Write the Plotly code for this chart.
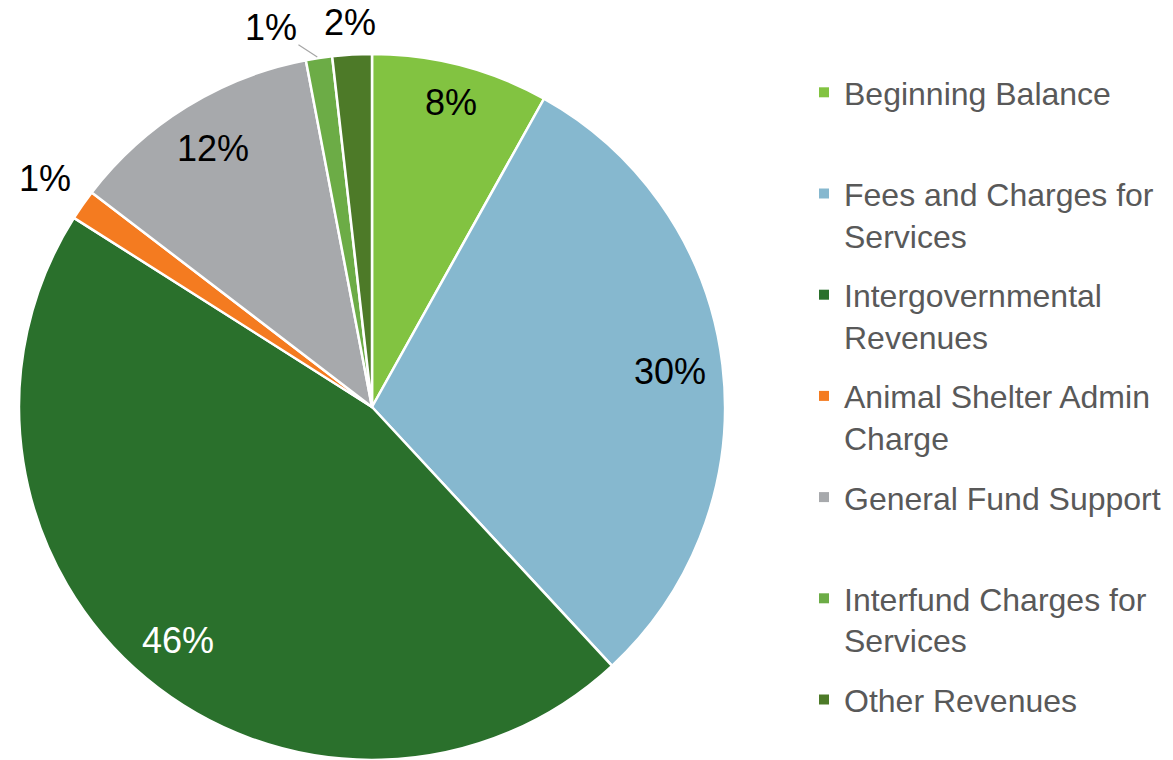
import math
import plotly.graph_objects as go

# ---- data ----
categories = [
    "Beginning Balance",
    "Fees and Charges for Services",
    "Intergovernmental Revenues",
    "Animal Shelter Admin Charge",
    "General Fund Support",
    "Interfund Charges for Services",
    "Other Revenues",
]
legend_labels = [
    "Beginning Balance<br> ",
    "Fees and Charges for<br>Services",
    "Intergovernmental<br>Revenues",
    "Animal Shelter Admin<br>Charge",
    "General Fund Support<br> ",
    "Interfund Charges for<br>Services",
    "Other Revenues",
]
shares = [8.1, 30.0, 45.9, 1.4, 11.6, 1.2, 1.8]

# ---- styles ----
colors = ["#82C341", "#86B8CF", "#2A702C", "#F47B20", "#A7A9AC", "#6CAC46", "#4D7A28"]
label_colors = ["#000000", "#000000", "#FFFFFF", "#000000", "#000000", "#000000", "#000000"]
label_r = [0.89, 0.85, 0.86, 1.13, 0.86, 1.0, 1.09]

W, H = 1173, 760
# the page body adds an 8px offset, so the figure is laid out 8px up/left
dom_x = [11 / W, 717 / W]
dom_y = [8 / H, (H - 46) / H]
FONT = "Liberation Sans, Arial, sans-serif"

fig = go.Figure()
fig.add_trace(go.Pie(
    labels=categories,
    values=shares,
    sort=False,
    direction="clockwise",
    rotation=0,
    marker=dict(colors=colors, line=dict(color="white", width=2.5)),
    textinfo="none",
    hoverinfo="label+percent",
    showlegend=False,
    domain=dict(x=dom_x, y=dom_y),
))

# legend entries
for lab, col in zip(legend_labels, colors):
    fig.add_trace(go.Scatter(
        x=[None], y=[None], mode="markers", name=lab, legendgroup=lab,
        marker=dict(symbol="square", size=10, color=col, line=dict(width=0)),
        hoverinfo="skip",
    ))

# percent labels computed from the data
cx = (dom_x[0] + dom_x[1]) / 2 * W
cy = (1 - (dom_y[0] + dom_y[1]) / 2) * H
R = min((dom_x[1] - dom_x[0]) * W, (dom_y[1] - dom_y[0]) * H) / 2
total = sum(shares)
cum = 0.0
annotations = []
for i, v in enumerate(shares):
    mid = (cum + v / 2) / total * 2 * math.pi
    cum += v
    txt = f"{round(100 * v / total):.0f}%"
    if categories[i] == "Interfund Charges for Services":
        ex = cx + R * math.sin(mid)
        ey = cy - R * math.cos(mid)
        annotations.append(dict(
            x=ex / W, y=1 - ey / H, xref="paper", yref="paper",
            xanchor="center", yanchor="middle",
            text=txt, showarrow=True, arrowhead=0, arrowwidth=1.2,
            arrowcolor="#A6A6A6", ax=-48, ay=-31, standoff=2,
            font=dict(family=FONT, size=36, color=label_colors[i]),
        ))
        continue
    r = R * label_r[i]
    px = cx + r * math.sin(mid)
    py = cy - r * math.cos(mid)
    annotations.append(dict(
        x=px / W, y=1 - py / H, xref="paper", yref="paper",
        xanchor="center", yanchor="middle",
        text=txt, showarrow=False,
        font=dict(family=FONT, size=36, color=label_colors[i]),
    ))

fig.update_layout(
    width=W, height=H,
    margin=dict(l=0, r=0, t=0, b=0, autoexpand=False),
    paper_bgcolor="white", plot_bgcolor="white",
    xaxis=dict(visible=False), yaxis=dict(visible=False),
    annotations=annotations,
    legend=dict(
        x=796 / W, xanchor="left", y=1 - 57 / H, yanchor="top",
        font=dict(family=FONT, size=32, color="#595959"),
        valign="top", tracegroupgap=15, traceorder="grouped",
        bgcolor="rgba(0,0,0,0)",
    ),
    showlegend=True,
)

fig.write_html("out.html")
